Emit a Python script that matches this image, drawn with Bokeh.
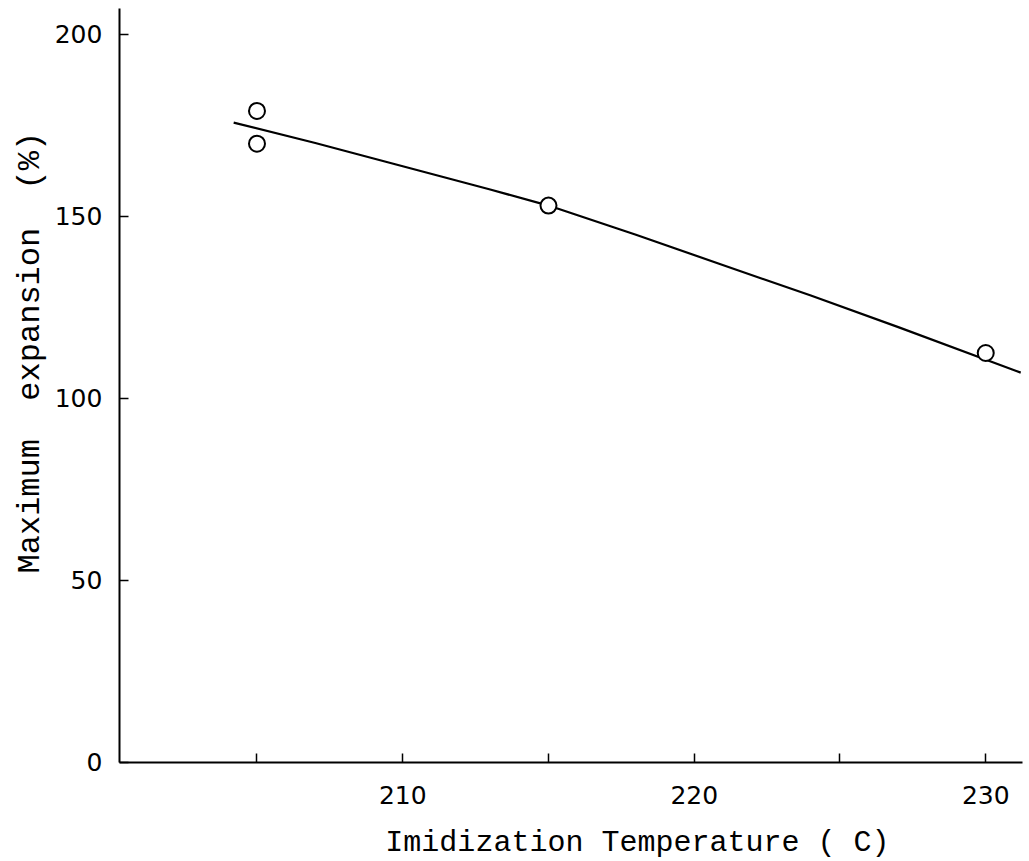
import math
from bokeh.plotting import figure
from bokeh.models import Range1d, FixedTicker, LinearAxis, Label
from bokeh.embed import file_html
from bokeh.resources import INLINE

# Data
temp_points = [205, 205, 215, 230]
expansion_points = [179, 170, 153, 112.5]

fit_temp = [204.2, 207.0, 210.0, 213.0, 215.0, 218.0, 221.0, 224.0, 227.0, 231.2]
fit_expansion = [175.8, 170.2, 163.8, 157.4, 153.0, 145.0, 136.6, 128.3, 119.6, 107.1]

x_ticks = [205, 210, 215, 220, 225, 230]
x_tick_labels = {205: "", 210: "210", 215: "", 220: "220", 225: "", 230: "230"}
y_ticks = [0, 50, 100, 150, 200]

x_title = "Imidization Temperature ( C)"
y_title = "Maximum\u00a0 expansion\u00a0 (%)"

# axis extents (data units)
x_axis_span = (200.28, 231.26)
y_axis_span = (0, 207.14)

p = figure(width=1029, height=861, output_backend="svg", toolbar_location=None,
           x_range=Range1d(196.201, 231.501), y_range=Range1d(-27.20, 209.34),
           x_axis_location=None, y_axis_location=None, title_location=None,
           min_border=0)
p.outline_line_color = None
p.background_fill_color = "white"
p.border_fill_color = "white"

tick_font = "DejaVu Sans"
xaxis = LinearAxis(fixed_location=0, bounds=x_axis_span,
                   ticker=FixedTicker(ticks=x_ticks),
                   major_label_overrides=x_tick_labels, major_label_standoff=24)
yaxis = LinearAxis(fixed_location=x_axis_span[0], bounds=y_axis_span,
                   ticker=FixedTicker(ticks=y_ticks), major_label_standoff=17)
for ax in (xaxis, yaxis):
    ax.axis_line_width = 2
    ax.axis_line_color = "black"
    ax.major_tick_in = 9
    ax.major_tick_out = 0
    ax.major_tick_line_width = 1.5
    ax.minor_tick_line_color = None
    ax.major_label_text_font = tick_font
    ax.major_label_text_font_size = "25px"
    ax.major_label_text_color = "black"
p.add_layout(xaxis, "below")
p.add_layout(yaxis, "left")

for g in p.renderers[:]:
    pass
for grid in p.xgrid + p.ygrid:
    grid.visible = False

p.line(fit_temp, fit_expansion, line_color="black", line_width=2.2, line_join="round")
p.scatter(temp_points, expansion_points, marker="circle", size=16,
          fill_color="white", line_color="black", line_width=2)

p.add_layout(Label(x=218.05, y=-22.0, text=x_title, text_font="Liberation Mono",
                   text_font_size="30px", text_align="center", text_baseline="middle",
                   text_color="black"))
p.add_layout(Label(x=197.23, y=112.6, text=y_title, text_font="Liberation Mono",
                   text_font_size="32px", text_align="center", text_baseline="middle",
                   angle=math.pi / 2, text_color="black"))

open("out.html", "w").write(file_html(p, INLINE))
